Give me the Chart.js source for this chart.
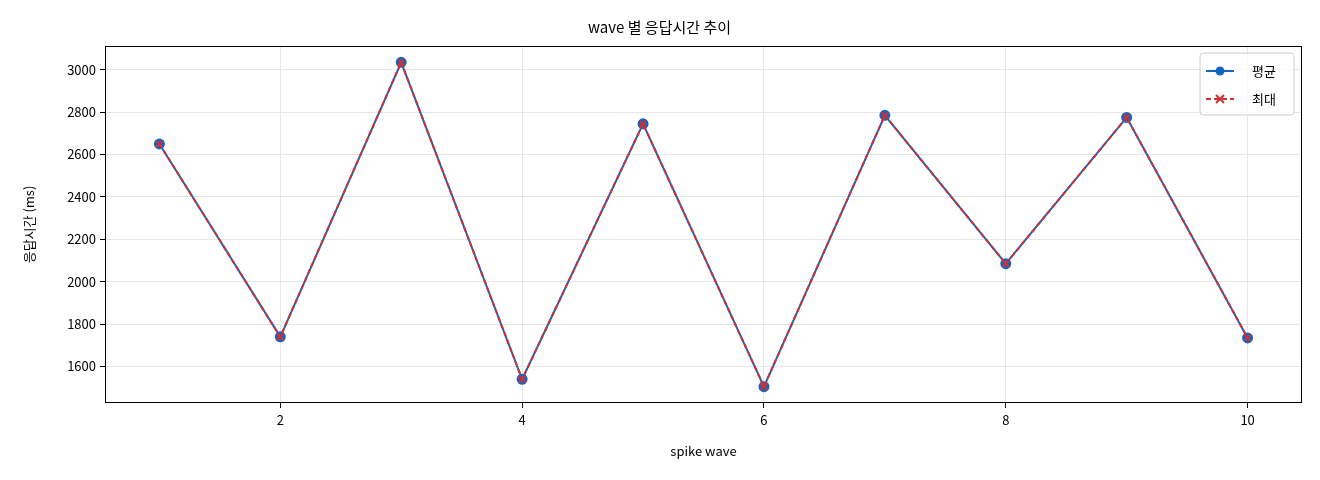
<!DOCTYPE html><html><head><meta charset="utf-8">
<script src="https://cdn.jsdelivr.net/npm/chart.js@4"></script>
<style>html,body{margin:0;background:#fff}#w{width:1320px;height:480px}</style></head><body>
<div id="w"><canvas id="c"></canvas></div>
<script>
const waves=[1,2,3,4,5,6,7,8,9,10];
const avgMs=[2650,1740,3035,1540,2745,1505,2785,2085,2775,1735];
const maxMs=[2650,1740,3035,1540,2745,1505,2785,2085,2775,1735];
const xTicks=[2,4,6,8,10];
const yTicks=[1600,1800,2000,2200,2400,2600,2800,3000];
const F='"Noto Sans CJK KR","DejaVu Sans",sans-serif';
const BLUE='#1565c0',RED='#d32f2f';
const frame={id:'frame',afterDraw(c){const a=c.chartArea,x=c.ctx;x.save();x.strokeStyle='#000';x.lineWidth=1;x.strokeRect(a.left+0.5,a.top+0.5,a.right-a.left-1,a.bottom-a.top-1);
const lx=a.right-102,ly=a.top+7;x.fillStyle='rgba(255,255,255,0.8)';x.strokeStyle='#ccc';x.beginPath();x.roundRect(lx,ly,94,62,3);x.fill();x.stroke();
const items=[['평균',BLUE,[], 'c'],['최대',RED,[5,3],'x']];
items.forEach((it,i)=>{const y=ly+18+i*28;x.strokeStyle=it[1];x.lineWidth=2;x.setLineDash(it[2]);x.beginPath();x.moveTo(lx+6,y);x.lineTo(lx+34,y);x.stroke();x.setLineDash([]);
if(it[3]==='c'){x.fillStyle=it[1];x.beginPath();x.arc(lx+20,y,4.5,0,7);x.fill();}else{x.beginPath();x.moveTo(lx+16,y-4);x.lineTo(lx+24,y+4);x.moveTo(lx+24,y-4);x.lineTo(lx+16,y+4);x.stroke();}
x.fillStyle='#000';x.font='13px '+F;x.textBaseline='middle';x.fillText(it[0],lx+52,y);});
x.restore();}};
new Chart(document.getElementById('c'),{type:'line',
data:{datasets:[
{label:'평균',order:1,data:waves.map((w,i)=>({x:w,y:avgMs[i]})),borderColor:BLUE,backgroundColor:BLUE,borderWidth:2,pointRadius:4.5,pointStyle:'circle',pointBackgroundColor:BLUE,pointBorderColor:BLUE},
{label:'최대',order:0,data:waves.map((w,i)=>({x:w,y:maxMs[i]})),borderColor:RED,backgroundColor:RED,borderWidth:2,borderDash:[5,3],pointRadius:4.5,pointStyle:'crossRot',pointBorderColor:RED,pointBorderWidth:2}]},
options:{animation:false,responsive:true,maintainAspectRatio:false,
layout:{padding:{top:10,right:18,left:17,bottom:17}},
plugins:{legend:{display:false},tooltip:{enabled:false},title:{display:true,text:'wave 별 응답시간 추이',color:'#000',font:{family:F,size:15,weight:'normal'},padding:{top:8,bottom:10}}},
scales:{
x:{type:'linear',min:0.55,max:10.45,afterBuildTicks(s){s.ticks=xTicks.map(v=>({value:v}))},afterFit(s){s.height=60},
grid:{color:'#e6e6e6',drawTicks:true,tickLength:5,tickColor:'#000'},border:{display:false},
ticks:{color:'#000',font:{family:F,size:13},padding:4,callback:v=>String(v)},title:{display:true,text:'spike wave',color:'#000',font:{family:F,size:13},padding:{top:6}}},
y:{min:1428,max:3112,afterBuildTicks(s){s.ticks=yTicks.map(v=>({value:v}))},afterFit(s){s.width=88},
grid:{color:'#e6e6e6',tickLength:5,tickColor:'#000'},border:{display:false},
ticks:{color:'#000',font:{family:F,size:13},padding:4,callback:v=>String(v)},title:{display:true,text:'응답시간 (ms)',color:'#000',font:{family:F,size:13},padding:{bottom:4}}}}},
plugins:[frame]});
</script></body></html>
